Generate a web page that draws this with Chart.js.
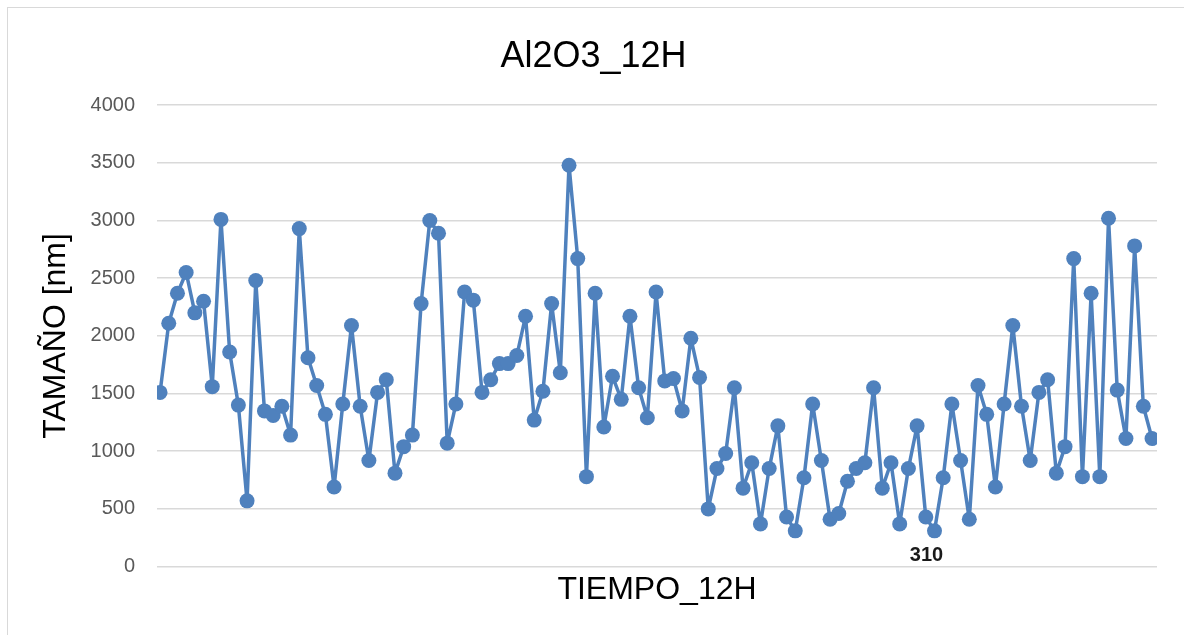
<!DOCTYPE html>
<html>
<head>
<meta charset="utf-8">
<script src="https://cdn.jsdelivr.net/npm/chart.js@4/dist/chart.umd.min.js"></script>
<style>
  html, body { margin: 0; padding: 0; background: #fff; }
  #wrap { position: relative; width: 1184px; height: 635px; overflow: hidden; }
  #frame { position: absolute; left: 7px; top: 7px; width: 1200px; height: 660px; border: 1px solid #d9d9d9; box-sizing: border-box; }
  canvas { position: absolute; left: 0; top: 0; }
</style>
</head>
<body>
<div id="wrap">
  <div id="frame"></div>
  <canvas id="chart" width="1184" height="635"></canvas>
</div>
<script>
// Al2O3_12H — tamaño de partícula a lo largo del tiempo

const titulo = 'Al2O3_12H';
const ejeX = 'TIEMPO_12H';
const ejeY = 'TAMAÑO [nm]';

// valores (nm), uno por medición
const tamano = [
  1510, 2110, 2370, 2550, 2200, 2300, 1560, 3010, 1860, 1400,
  570, 2480, 1350, 1310, 1390, 1140, 2930, 1810, 1570, 1320,
  690, 1410, 2090, 1390, 920, 1510, 1620, 810, 1040, 1140,
  2280, 3000, 2890, 1070, 1410, 2380, 2310, 1510, 1620, 1760,
  1760, 1830, 2170, 1270, 1520, 2280, 1680, 3480, 2670, 780,
  2370, 1210, 1650, 1450, 2170, 1550, 1290, 2380, 1610, 1630,
  1350, 1980, 1640, 500, 850, 980, 1550, 680, 900, 370,
  850, 1220, 430, 310, 770, 1410, 920, 410, 460, 740,
  850, 900, 1550, 680, 900, 370, 850, 1220, 430, 310,
  770, 1410, 920, 410, 1570, 1320, 690, 1410, 2090, 1390,
  920, 1510, 1620, 810, 1040, 2670, 780, 2370, 780, 3020,
  1530, 1110, 2780, 1390, 1110
];

// eje Y
const yMin = 0, yMax = 4000, yPaso = 500;

// índice del punto con etiqueta visible
const etiquetaIdx = 89;

const FONT = '"Liberation Sans", Arial, sans-serif';
const AZUL = '#4f81bd';

const puntos = tamano.map((v, i) => ({ x: i, y: v }));

// etiqueta de dato bajo un único punto
const etiquetaPlugin = {
  id: 'etiqueta',
  afterDatasetsDraw(chart) {
    const p = chart.getDatasetMeta(0).data[etiquetaIdx];
    if (!p) return;
    const ctx = chart.ctx;
    ctx.save();
    ctx.font = 'bold 20px ' + FONT;
    ctx.fillStyle = '#1a1a1a';
    ctx.textAlign = 'center';
    ctx.textBaseline = 'middle';
    ctx.fillText(String(tamano[etiquetaIdx]), p.x - 8, p.y + 25);
    ctx.restore();
  }
};

new Chart(document.getElementById('chart').getContext('2d'), {
  type: 'line',
  data: {
    datasets: [{
      label: 'Tamaño',
      data: puntos,
      borderColor: AZUL,
      backgroundColor: AZUL,
      borderWidth: 3.5,
      borderJoinStyle: 'round',
      borderCapStyle: 'round',
      pointRadius: 7.5,
      pointBorderWidth: 0,
      pointBackgroundColor: AZUL,
      tension: 0
    }]
  },
  options: {
    responsive: false,
    animation: false,
    layout: { padding: { left: 30, right: 27, top: 0, bottom: 26 } },
    plugins: {
      legend: { display: false },
      tooltip: { enabled: false },
      title: {
        display: true,
        text: titulo,
        color: '#000',
        font: { family: FONT, size: 36, weight: 'normal', lineHeight: 1.2 },
        padding: { top: 35, bottom: 27 }
      }
    },
    scales: {
      x: {
        type: 'linear',
        min: -0.35,
        max: tamano.length - 1 + 0.57,
        grid: { display: false, drawTicks: false },
        border: { display: false },
        ticks: { display: false },
        title: {
          display: true,
          text: ejeX,
          color: '#000',
          font: { family: FONT, size: 32, lineHeight: 1.2 },
          padding: { top: 4, bottom: 0 }
        }
      },
      y: {
        min: yMin,
        max: yMax,
        afterFit: (scale) => { scale.width = 127; },
        grid: { color: '#d9d9d9', lineWidth: 1.5, drawTicks: false },
        border: { display: false },
        ticks: {
          stepSize: yPaso,
          padding: 22,
          color: '#595959',
          font: { family: FONT, size: 20 },
          callback: (v) => String(v)
        },
        title: {
          display: true,
          text: ejeY,
          color: '#000',
          font: { family: FONT, size: 32, lineHeight: 1.2 },
          padding: { top: 7, bottom: 15 }
        }
      }
    }
  },
  plugins: [etiquetaPlugin]
});
</script>
</body>
</html>
